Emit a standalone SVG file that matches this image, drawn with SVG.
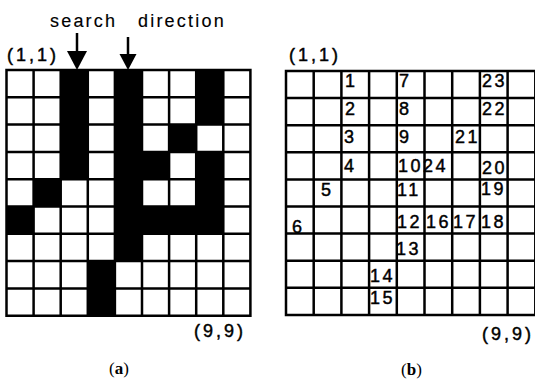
<svg xmlns="http://www.w3.org/2000/svg" width="535" height="381" viewBox="0 0 535 381">
<style>
.bg{fill:#fff}
.blk{fill:#000}
.grid{stroke:#000;stroke-width:2.5;fill:none;stroke-linecap:square}
.lbl{font-family:"Liberation Sans",Arial,sans-serif;font-size:18px;fill:#000;stroke:#000;stroke-width:0.45;letter-spacing:3px}
.hdr{font-family:"Liberation Sans",Arial,sans-serif;font-size:18px;fill:#000;stroke:#000;stroke-width:0.15;letter-spacing:2.2px}
.num{font-family:"Liberation Sans",Arial,sans-serif;font-size:18px;fill:#000;stroke:#000;stroke-width:0.45;letter-spacing:2.5px}
.cap{font-family:"Liberation Serif","Times New Roman",serif;font-size:17px;fill:#000}
.arr{stroke:#000;stroke-width:2.5;fill:none}
</style>
<rect width="535" height="381" class="bg"/>

<g id="grid-a">
<g id="grid-a-black" class="blk">
<rect x="60.7" y="70" width="27.1" height="109.2"/>
<rect x="114.9" y="70" width="27.1" height="191.1"/>
<rect x="196.2" y="70" width="27.1" height="54.6"/>
<rect x="169.1" y="124.6" width="27.1" height="27.3"/>
<rect x="142" y="151.9" width="27.1" height="27.3"/>
<rect x="196.2" y="151.9" width="27.1" height="81.9"/>
<rect x="33.6" y="179.2" width="27.1" height="27.3"/>
<rect x="6.5" y="206.5" width="27.1" height="27.3"/>
<rect x="142" y="206.5" width="81.3" height="27.3"/>
<rect x="87.8" y="261.1" width="27.1" height="54.6"/>
</g>
<path class="grid" d="M6.5,70V315.7M33.6,70V315.7M60.7,70V315.7M87.8,70V315.7M114.9,70V315.7M142,70V315.7M169.1,70V315.7M196.2,70V315.7M223.3,70V315.7M250.4,70V315.7M6.5,70H250.4M6.5,97.3H250.4M6.5,124.6H250.4M6.5,151.9H250.4M6.5,179.2H250.4M6.5,206.5H250.4M6.5,233.8H250.4M6.5,261.1H250.4M6.5,288.4H250.4M6.5,315.7H250.4"/>
<text class="lbl" x="7" y="61">(1,1)</text>
<text class="lbl" x="194" y="337">(9,9)</text>
<text class="hdr" x="50" y="27">search</text>
<text class="hdr" x="138" y="27">direction</text>
<text class="cap" x="109" y="374">(<tspan font-weight="bold">a</tspan>)</text>
</g>

<g id="arrows">
<path class="arr" d="M77,33V52"/>
<path d="M67,51H87L77,70Z" class="blk"/>
<path class="arr" d="M128,37V55"/>
<path d="M119.5,54H136.5L128,70Z" class="blk"/>
</g>

<g id="grid-b">
<path class="grid" d="M286,71V314.9M313.7,71V314.9M341.4,71V314.9M369.1,71V314.9M396.8,71V314.9M424.5,71V314.9M452.2,71V314.9M479.9,71V314.9M507.6,71V314.9M535.3,71V314.9M286,71H535.3M286,98.1H535.3M286,125.2H535.3M286,152.3H535.3M286,179.4H535.3M286,206.5H535.3M286,233.6H535.3M286,260.7H535.3M286,287.8H535.3M286,314.9H535.3"/>
<g id="labels-b" class="num">
<text x="345" y="87">1</text>
<text x="345" y="115">2</text>
<text x="344" y="143">3</text>
<text x="344" y="172">4</text>
<text x="321" y="196">5</text>
<text x="292" y="233">6</text>
<text x="399" y="87">7</text>
<text x="399" y="115">8</text>
<text x="399" y="143">9</text>
<text x="398" y="172">10</text>
<text x="423" y="172">24</text>
<text x="397" y="196">11</text>
<text x="397" y="228">12</text>
<text x="426" y="228">16</text>
<text x="453" y="228">17</text>
<text x="481" y="228">18</text>
<text x="396" y="255">13</text>
<text x="370" y="282">14</text>
<text x="370" y="304">15</text>
<text x="481" y="195">19</text>
<text x="482" y="174">20</text>
<text x="455" y="143">21</text>
<text x="482" y="115">22</text>
<text x="482" y="87">23</text>
</g>
<text class="lbl" x="289" y="61">(1,1)</text>
<text class="lbl" x="482" y="340">(9,9)</text>
<text class="cap" x="401" y="375">(<tspan font-weight="bold">b</tspan>)</text>
</g>
</svg>
